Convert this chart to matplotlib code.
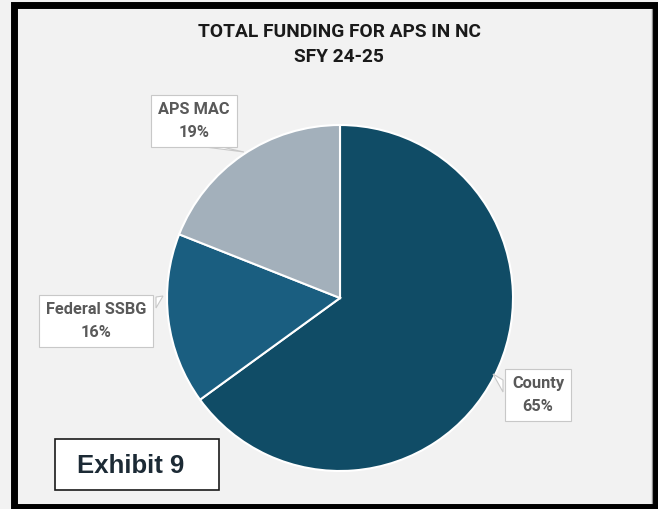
import matplotlib.pyplot as plt
from matplotlib.patches import Rectangle, Polygon

# funding shares, SFY 24-25
sources = ['County', 'Federal SSBG', 'APS MAC']
shares = [65, 16, 19]
colors = ['#104c66', '#1a5e80', '#a3b0bb']

W, H = 658, 509
fig = plt.figure(figsize=(W / 100, H / 100), dpi=100, facecolor='#f2f2f2')
ax = fig.add_axes([0, 0, 1, 1])

# pie, pixel units (y measured up from the bottom)
cx, cy, r = 340, H - 298, 173
wedges, _ = ax.pie(shares, colors=colors, startangle=90, counterclock=False,
                   center=(cx, cy), radius=r, frame=True,
                   wedgeprops=dict(edgecolor='white', linewidth=1.5))
ax.set_xlim(0, W)
ax.set_ylim(0, H)
ax.axis('off')

ax.text(W / 2 + 10, H - 44.5, 'TOTAL FUNDING FOR APS IN NC\nSFY 24-25',
        ha='center', va='center', fontsize=13.8, fontweight='bold',
        family='Roboto', color='#1a1a1a', linespacing=1.45)

# callout labels: text position and pointer triangle
label_pos = {'County': (538, H - 395), 'Federal SSBG': (96, H - 321), 'APS MAC': (194, H - 121)}
pointers = {
    'County': [(503, H - 380), (503, H - 392), (493, H - 374)],
    'Federal SSBG': [(156, H - 297), (156, H - 308), (163, H - 296)],
    'APS MAC': [(205, H - 147), (222, H - 147), (244, H - 152)],
}
for name, val in zip(sources, shares):
    x, y = label_pos[name]
    ax.add_patch(Polygon(pointers[name], closed=True, facecolor='white',
                         edgecolor='#c8c8c8', linewidth=0.8, zorder=4))
    ax.text(x, y, f'{name}\n{val}%', ha='center', va='center', fontsize=11.8,
            fontweight='bold', family='Roboto', color='#595959', linespacing=1.65,
            zorder=5,
            bbox=dict(boxstyle='square,pad=0.42', facecolor='white',
                      edgecolor='#c8c8c8', linewidth=0.8))

# exhibit tag
ax.add_patch(Rectangle((55, H - 490), 164, 51, facecolor='white',
                       edgecolor='#1a1a1a', linewidth=1.2, zorder=6))
ax.text(77, H - 466, 'Exhibit 9', ha='left', va='center', fontsize=18.5,
        fontweight='bold', family='Liberation Sans', color='#1c2a35', zorder=7)

# outer frame
ax.add_patch(Rectangle((13.5, 2.5), 642, H - 7.5, facecolor='none',
                       edgecolor='black', linewidth=5.0, zorder=10, clip_on=False))
ax.plot([651.5, 651.5], [6, H - 9], color='#8c8c8c', linewidth=1.0, zorder=9)

fig.savefig('out.png', dpi=100, facecolor=fig.get_facecolor())
